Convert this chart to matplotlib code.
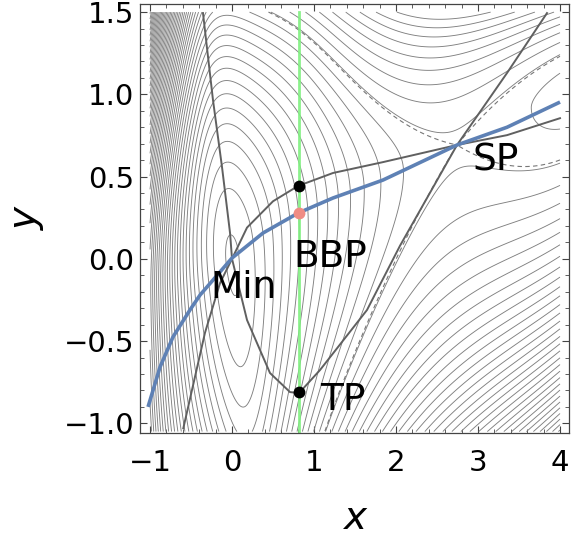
import numpy as np
import matplotlib
matplotlib.use("Agg")
import matplotlib.pyplot as plt
from matplotlib.ticker import MultipleLocator

# ---------------- data ----------------
# Newton trajectory through the barrier breakdown point (blue)
nt_x = [-1.024, -0.878, -0.72, -0.512, -0.39, -0.232, 0.0, 0.378, 0.805, 1.232, 1.841, 2.744, 3.354, 4.0]
nt_y = [-0.90, -0.658, -0.475, -0.31, -0.22, -0.129, 0.005, 0.157, 0.278, 0.37, 0.479, 0.692, 0.80, 0.953]

# gray curve through the upper black point
gb_x = [-0.594, -0.33, -0.146, 0.0, 0.183, 0.5, 0.805, 1.232, 1.841, 2.744, 3.354, 4.0]
gb_y = [-1.03, -0.45, -0.147, 0.0, 0.19, 0.35, 0.443, 0.522, 0.588, 0.692, 0.752, 0.855]

# gray curve through the turning point
ga_x = [-0.354, -0.232, -0.122, -0.024, 0.0, 0.183, 0.463, 0.707, 0.817, 1.073, 1.646, 2.049, 2.744, 3.354, 3.841]
ga_y = [1.494, 0.965, 0.558, 0.157, 0.0, -0.372, -0.694, -0.81, -0.816, -0.676, -0.311, 0.08, 0.692, 1.13, 1.494]

# vertical line and marked points
line_x = 0.815
line_y = [-1.05, 1.5]
black_x = [0.815, 0.815]
black_y = [0.443, -0.81]
bbp_x = [0.815]
bbp_y = [0.278]

# stationary points of the model surface
min_xy = (0.0, 0.0)
sp_xy = (2.744, 0.692)

# labels
labels = ["Min", "BBP", "SP", "TP"]
label_x = [-0.268, 0.744, 2.93, 1.073]
label_y = [-0.238, -0.05, 0.54, -0.92]

# ---------------- model surface (for the contour lines) ----------------
D, A = 14.6, 1.0          # Morse branch towards the saddle
KL = 16.7                 # left wall (harmonic)
QR, S = 4.4, 1.2          # shallow product valley
q_s = sp_xy[0]
morse_d = 2 * D * A * np.exp(-A * q_s) * (1 - np.exp(-A * q_s))
gauss_d = np.exp(-(q_s - QR) ** 2 / (2 * S ** 2)) * (QR - q_s) / S ** 2
G = morse_d / gauss_d
slope = sp_xy[1] / sp_xy[0]
STEP = 0.75


def V(x, y):
    t = 0.2 * np.exp(-x ** 2 / 0.5)
    q = x + t * y
    right = D * (1 - np.exp(-A * q)) ** 2
    left = KL * q ** 2
    f = np.where(q > 0, right, left) - G * np.exp(-(q - QR) ** 2 / (2 * S ** 2))
    p = y - slope * q
    gu = np.maximum(4.8 - 1.3 * q + 1.2 * q ** 2, 3.0)
    gd = np.maximum(2.0 + 0.5 * q + 0.1 * q ** 2, 1.5)
    g = np.where(p > 0, gu, gd)
    return f + g * p ** 2


fig = plt.figure(figsize=(5.71, 5.38), dpi=100)
ax = fig.add_axes([0.2452, 0.1957, 0.7518, 0.7968])

xs = np.linspace(-1.0, 4.0, 800)
ys = np.linspace(-1.05, 1.5, 700)
X, Y = np.meshgrid(xs, ys)
Z = V(X, Y)
vsp = V(*sp_xy)
levels = vsp + 0.12 * STEP + np.arange(-30, 120) * STEP
levels = levels[(levels > Z.min()) & (levels < Z.max())]
ax.contour(X, Y, Z, levels=levels, colors="#808080", linewidths=0.65)
# saddle-energy contour (separatrix) only around the saddle region
Zsep = np.ma.masked_where(X < 0.3, Z)
ax.contour(X, Y, Zsep, levels=[vsp], colors="#777777", linewidths=0.8,
           linestyles=[(0, (4, 3))])

ax.plot(ga_x, ga_y, color="#606060", lw=1.4)
ax.plot(gb_x, gb_y, color="#606060", lw=1.4)
ax.plot([line_x, line_x], line_y, color="#80f080", lw=2.0, alpha=0.9)
ax.plot(nt_x, nt_y, color="#5e81b5", lw=2.6, solid_capstyle="butt")
ax.plot(bbp_x, bbp_y, "o", color="#f08c84", ms=8.5, mec="none")
ax.plot(black_x, black_y, "o", color="black", ms=8.5, mec="none")

for s, lx, ly in zip(labels, label_x, label_y):
    ax.text(lx, ly, s, fontsize=27, ha="left", va="baseline", color="black")

ax.set_xlim(-1.122, 4.113)
ax.set_ylim(-1.057, 1.549)
ax.xaxis.set_major_locator(MultipleLocator(1))
ax.xaxis.set_minor_locator(MultipleLocator(0.2))
ax.yaxis.set_major_locator(MultipleLocator(0.5))
ax.yaxis.set_minor_locator(MultipleLocator(0.1))
ax.tick_params(which="both", direction="in", top=True, right=True, color="#444444")
ax.tick_params(which="major", length=5, width=0.8)
ax.tick_params(which="minor", length=3, width=0.6)
ax.tick_params(axis="x", labelsize=21, pad=12)
ax.tick_params(axis="y", labelsize=21, pad=4)
for sp in ax.spines.values():
    sp.set_color("#444444")
    sp.set_linewidth(0.9)

fig.text(355 / 571, 1 - 518 / 538, "x", fontsize=28, style="italic", ha="center", va="center")
fig.text(25.7 / 571, 1 - 219 / 538, "y", fontsize=28, style="italic", ha="center", va="center",
         rotation=90)

fig.savefig("out.png", dpi=100)
